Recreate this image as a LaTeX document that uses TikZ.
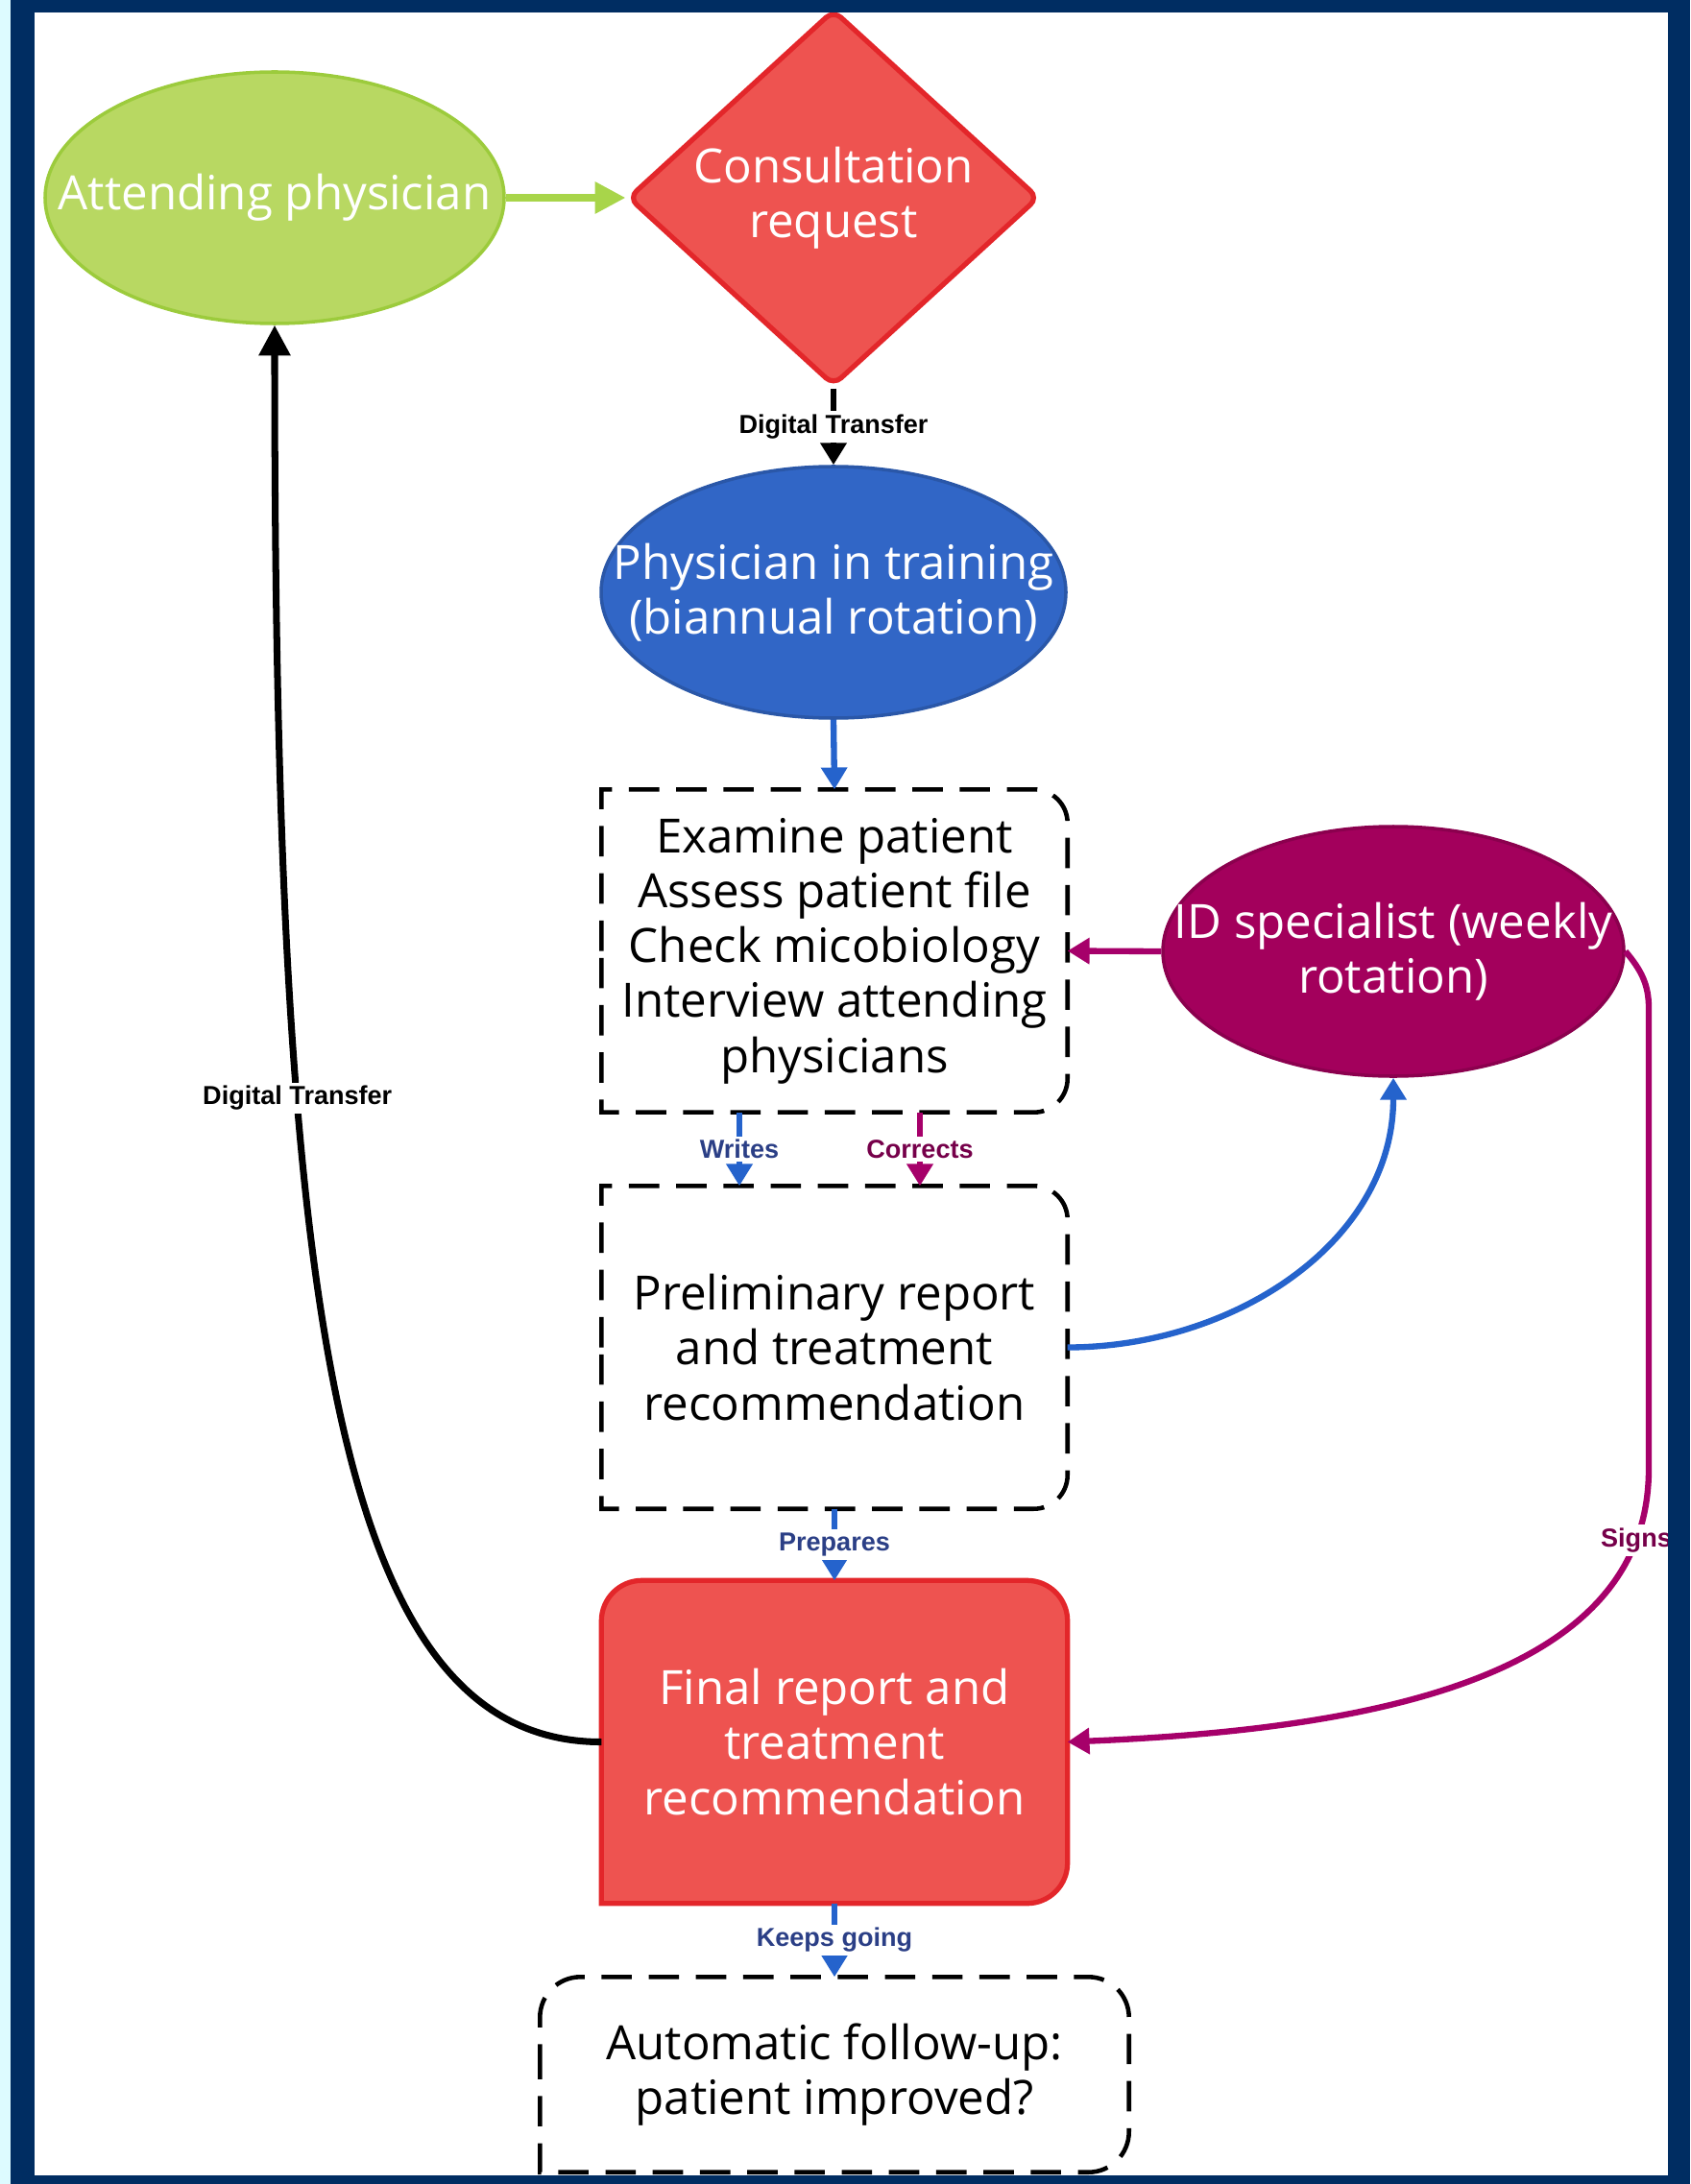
\documentclass[tikz,border=0pt]{standalone}
\usepackage{fontspec}
\setmainfont{Open Sans}
\newfontfamily\labelfont{Liberation Sans}
\usepackage{tikz}
\usetikzlibrary{arrows.meta, positioning, shapes.geometric, backgrounds}
\definecolor{framenavy}{HTML}{002D62}
\definecolor{framecyan}{HTML}{DDFBFF}
\definecolor{attgreen}{HTML}{B8D862}
\definecolor{attgreenline}{HTML}{9CCB3C}
\definecolor{arrowgreen}{HTML}{A8D54A}
\definecolor{reqred}{HTML}{EE5350}
\definecolor{reqredline}{HTML}{E3262A}
\definecolor{trainblue}{HTML}{3166C6}
\definecolor{arrowblue}{HTML}{2563CC}
\definecolor{idpurple}{HTML}{A3005C}
\definecolor{arrowpurple}{HTML}{A6006A}
\definecolor{lblblue}{HTML}{2B3F86}
\definecolor{lblpurple}{HTML}{76004A}

\begin{document}
\begin{tikzpicture}[
  shapetext/.style={font=\fontsize{14}{16.3}\selectfont, align=center, inner sep=0pt},
  blob/.style={ellipse, minimum width=4.8cm, minimum height=2.6cm, inner sep=0pt, line width=1pt},
  boxnode/.style={minimum width=4.84cm, minimum height=3.35cm, inner sep=0pt, align=center,
                  font=\fontsize{14}{16.3}\selectfont},
  dashbox/.style={line width=1.3pt, dash pattern=on 9pt off 5pt},
  conn/.style={line width=1.8pt, -{Triangle[length=6.5pt, width=7.5pt]}},
  bigconn/.style={line width=2pt, -{Triangle[length=9pt, width=9pt]}},
  lbl/.style={font=\labelfont\bfseries\fontsize{7.7}{9}\selectfont, fill=white, inner sep=1pt}
]
\useasboundingbox (0,0) rectangle (17.6,-22.75);

% Top row
\node[blob, minimum width=4.78cm, minimum height=2.62cm, fill=attgreen, draw=attgreenline] (attend) at (2.86,-2.06) {};
\node[shapetext, text=white] (attend-t) at (attend) {Attending physician};
\node[diamond, minimum width=4.28cm, minimum height=3.92cm, inner sep=0pt, fill=reqred, draw=reqredline,
      line width=1.5pt, rounded corners=3pt] (consult) at (8.68,-2.06) {};
\node[shapetext, text=white] (consult-t) at (consult) {Consultation\\request};

% Physician in training
\node[blob, minimum width=4.84cm, minimum height=2.62cm, fill=trainblue, draw=trainblue!85!black] (train) at (8.68,-6.17) {};
\node[shapetext, text=white] (train-t) at (train) {Physician in training\\(biannual rotation)};

% Examination box and ID specialist
\node[boxnode] (exam) at (8.69,-9.905) {Examine patient\\Assess patient file\\Check micobiology\\Interview attending\\physicians};
\draw[dashbox] (exam.west) -- (exam.north west) -- (exam.north) [rounded corners=10pt] -- (exam.north east)
  -- (exam.south east) -- (exam.south) [sharp corners] -- (exam.south west) -- cycle;
\node[blob, fill=idpurple, draw=idpurple!85!black] (idspec) at (14.51,-9.91) {};
\node[shapetext, text=white] (idspec-t) at (idspec) {ID specialist (weekly\\rotation)};

% Preliminary report
\node[boxnode] (prelim) at (8.69,-14.035) {Preliminary report\\and treatment\\recommendation};
\draw[dashbox] (prelim.west) -- (prelim.north west) -- (prelim.north) [rounded corners=10pt] -- (prelim.north east)
  -- (prelim.south east) -- (prelim.south) [sharp corners] -- (prelim.south west) -- cycle;

% Final report
\node[boxnode, text=white] (final) at (8.69,-18.145) {Final report and\\treatment\\recommendation};
\begin{scope}[on background layer]
\filldraw[fill=reqred, draw=reqredline, line width=1.5pt] (final.west) [rounded corners=12pt] -- (final.north west)
  -- (final.north east) -- (final.south east) -- (final.south) [sharp corners] -- (final.south west) -- cycle;
\end{scope}

% Follow-up
\node[boxnode, minimum width=6.12cm, minimum height=2.02cm] (follow) at (8.69,-21.61) {Automatic follow-up:\\patient improved?};
\draw[dashbox] (follow.west) [rounded corners=12pt] -- (follow.north west) -- (follow.north east)
  -- (follow.south east) -- (follow.south) [sharp corners] -- (follow.south west) -- cycle;

% Connectors
\draw[bigconn, arrowgreen] (attend.east) -- (consult.west);
\draw[conn, black] (consult.south) -- (train.north) node[lbl, midway] {Digital Transfer};
\draw[conn, arrowblue] (train.south) -- (exam.north);
\draw[conn, arrowpurple] (idspec.west) -- (exam.east);
\draw[conn, arrowblue] ([xshift=-0.99cm]exam.south) -- ([xshift=-0.99cm]prelim.north) node[lbl, text=lblblue, midway] {Writes};
\draw[conn, arrowpurple] ([xshift=0.89cm]exam.south) -- ([xshift=0.89cm]prelim.north) node[lbl, text=lblpurple, midway] {Corrects};
\draw[conn, arrowblue] (prelim.east) to[out=0, in=-90] (idspec.south);
\draw[conn, arrowblue] (prelim.south) -- (final.north) node[lbl, text=lblblue, midway] {Prepares};
\draw[conn, arrowblue] (final.south) -- (follow.north) node[lbl, text=lblblue, midway] {Keeps going};

\coordinate (signs-top) at (17.17,-10.5);
\coordinate (signs-low) at (17.17,-15.3);
\draw[conn, arrowpurple] (idspec.east) to[out=-50, in=90] (signs-top) -- (signs-low)
  .. controls +(0,-2.1) and +(3.4,0.14) .. (final.east) node[lbl, text=lblpurple, pos=0.13] {Signs};

\draw[bigconn, black] (final.west) .. controls +(-2.8,0) and +(0,-10.1) .. (attend.south)
  node[lbl, pos=0.68] {Digital Transfer};

% Frame
\fill[framecyan] (0,0) rectangle (0.11,-22.75);
\fill[framenavy] (0.11,0) rectangle (0.36,-22.75);
\fill[framenavy] (0.11,0) rectangle (17.6,-0.13);
\fill[framenavy] (17.37,0) rectangle (17.6,-22.75);
\fill[framenavy] (0.11,-22.66) rectangle (17.6,-22.75);
\end{tikzpicture}
\end{document}
